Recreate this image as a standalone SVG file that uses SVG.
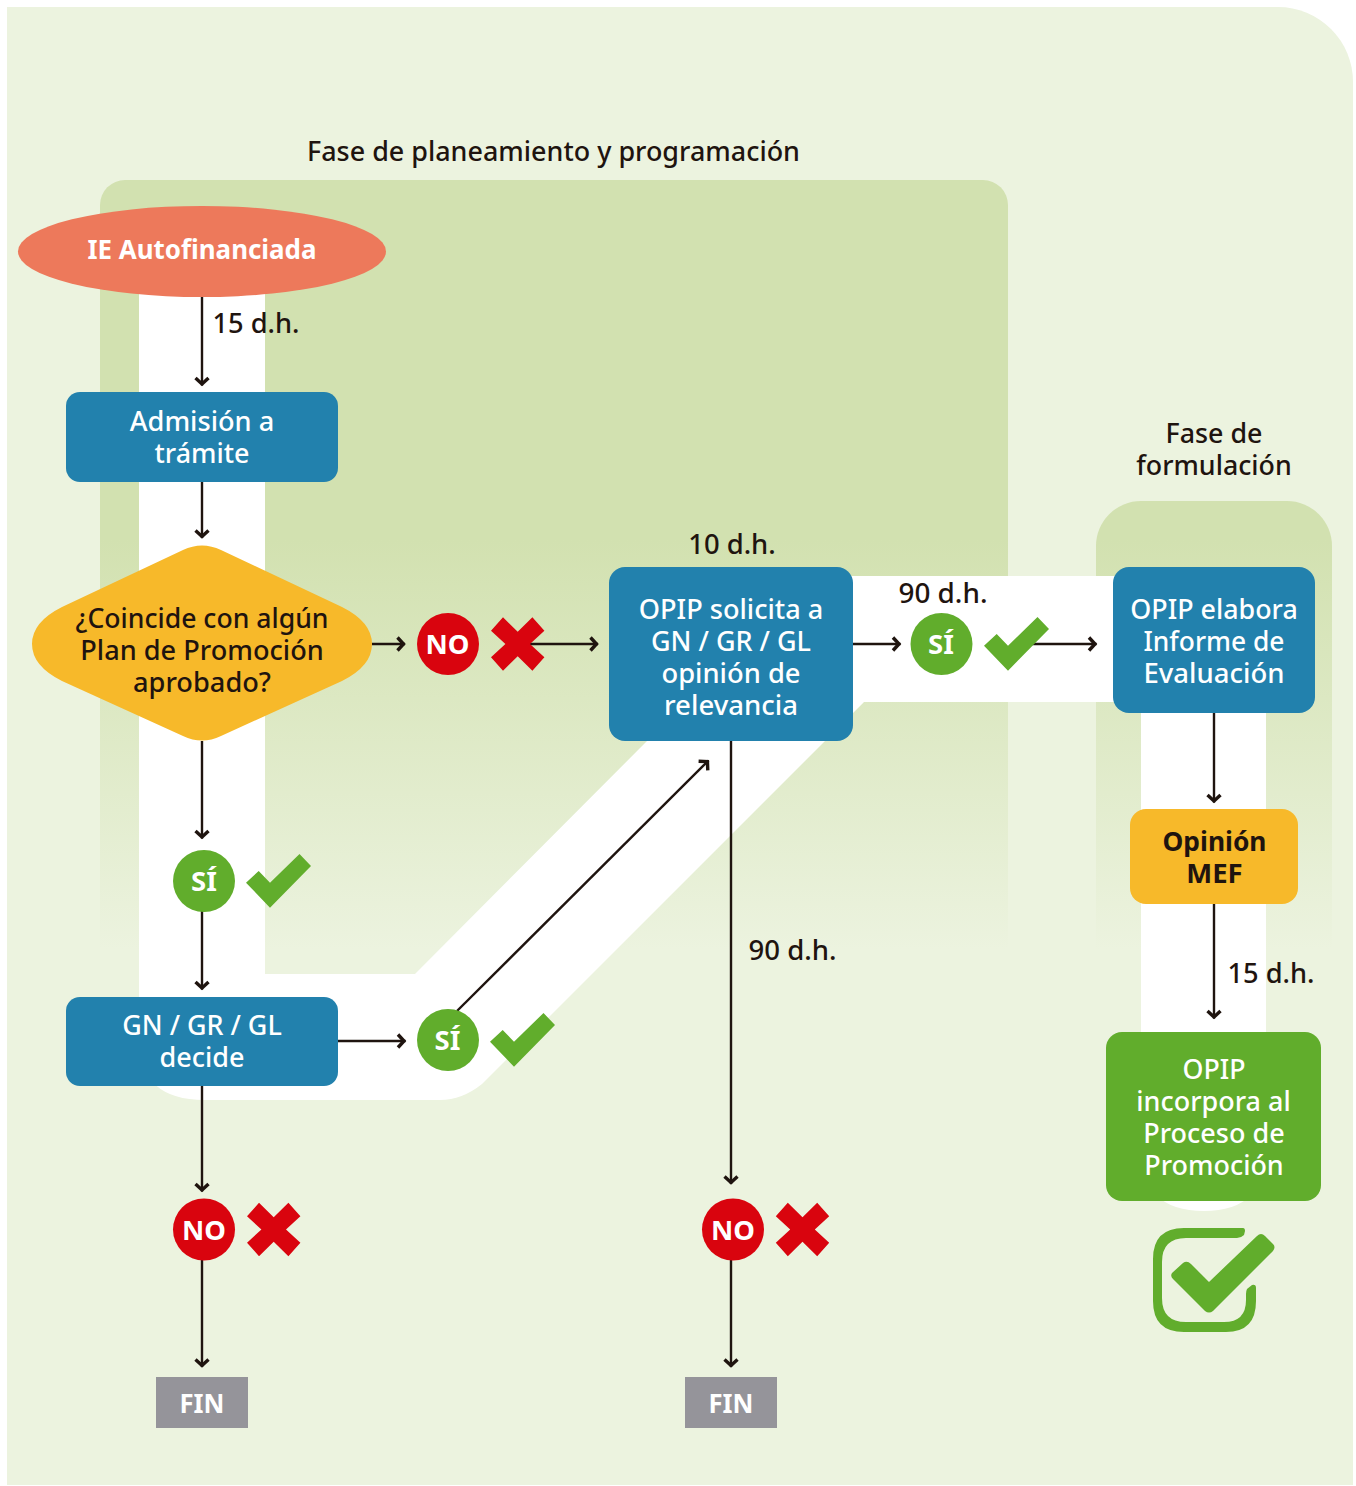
<svg xmlns="http://www.w3.org/2000/svg" width="1356" height="1486" viewBox="0 0 1356 1486">
<style>
text{font-family:"Noto Sans","Liberation Sans",sans-serif;font-size:27.5px;font-weight:500;text-anchor:middle}
.w{fill:#fff}.k{fill:#1f140f}.b{font-weight:700}
.blue{fill:#2281ad}.yel{fill:#f7b92a}.grn{fill:#61ad2c}.red{fill:#d9040e}.gry{fill:#95949a}
.c{fill:none;stroke:#1f140f;stroke-width:2.4}
</style>
<defs>
<linearGradient id="g1" gradientUnits="userSpaceOnUse" x1="0" y1="540" x2="0" y2="950"><stop offset="0" stop-color="#d2e1b0"/><stop offset="1" stop-color="#ecf3df"/></linearGradient>
<marker id="a" markerUnits="userSpaceOnUse" markerWidth="18" markerHeight="18" refX="13" refY="9" orient="auto"><path d="M5.500 2.500 L11.500 9 L5.500 15.500" fill="none" stroke="#1f140f" stroke-width="3.400"/></marker>
<path id="chk" d="M0 20.700 L12.700 9 L24 20.700 L53.500 -8 L65 4 L24 45.700 Z"/>
<path id="crs" d="M-26.700 -13.300 L-14.700 -26.700 L0 -12.300 L14.700 -26.700 L26.700 -13.300 L12.300 0 L26.700 13.300 L14.700 26.700 L0 12.300 L-14.700 26.700 L-26.700 13.300 L-12.300 0 Z"/>
</defs>
<path id="background" d="M7 7 H1278 A75 75 0 0 1 1353 82 V1485 H7 Z" fill="#ecf3df"/>
<g id="phases">
<path d="M100 1000 V205 A25 25 0 0 1 125 180 H983 A25 25 0 0 1 1008 205 V1000 Z" fill="url(#g1)"/>
<path d="M1096 1000 V546 A45 45 0 0 1 1141 501 H1287 A45 45 0 0 1 1332 546 V1000 Z" fill="url(#g1)"/>
<path fill="#fff" d="M139 290 H265 V974 H415 L650 738 H828 L482 1084 Q462 1100 440 1100 H205 Q139 1100 139 1040 Z"/>
<path fill="#fff" d="M850 576 H1116 V702 H864 L850 716 Z"/>
<path fill="#fff" d="M1141 700 H1266 V1150 Q1266 1211 1204 1211 Q1141 1211 1141 1150 Z"/>
<text class="k" x="553.500" y="161" textLength="493" lengthAdjust="spacingAndGlyphs">Fase de planeamiento y programación</text>
<text class="k" x="1214" y="443" textLength="97" lengthAdjust="spacingAndGlyphs">Fase de</text><text class="k" x="1214" y="475" textLength="155.500" lengthAdjust="spacingAndGlyphs">formulación</text>
</g>
<g id="connectors">
<path class="c" marker-end="url(#a)" d="M202 296 V385.500"/>
<path class="c" marker-end="url(#a)" d="M202 482 V538"/>
<path class="c" marker-end="url(#a)" d="M372 644 H405"/>
<path class="c" marker-end="url(#a)" d="M526 644 H598"/>
<path class="c" marker-end="url(#a)" d="M202 741 V838.500"/>
<path class="c" marker-end="url(#a)" d="M202 911 V989.500"/>
<path class="c" marker-end="url(#a)" d="M338 1041 H405.500"/>
<path class="c" marker-end="url(#a)" d="M457 1011 L708.500 760.500"/>
<path class="c" marker-end="url(#a)" d="M853 644 H900.500"/>
<path class="c" marker-end="url(#a)" d="M1032 644 H1096.500"/>
<path class="c" marker-end="url(#a)" d="M731 741 V1184"/>
<path class="c" marker-end="url(#a)" d="M202 1086 V1191.500"/>
<path class="c" marker-end="url(#a)" d="M202 1260 V1367"/>
<path class="c" marker-end="url(#a)" d="M731 1260 V1367"/>
<path class="c" marker-end="url(#a)" d="M1214 713 V802.500"/>
<path class="c" marker-end="url(#a)" d="M1214 904 V1018.500"/>
</g>
<g id="labels">
<text class="k" x="256" y="333" textLength="87" lengthAdjust="spacingAndGlyphs">15 d.h.</text>
<text class="k" x="732" y="554" textLength="87.500" lengthAdjust="spacingAndGlyphs">10 d.h.</text>
<text class="k" x="943" y="603" textLength="89" lengthAdjust="spacingAndGlyphs">90 d.h.</text>
<text class="k" x="792.500" y="960" textLength="88" lengthAdjust="spacingAndGlyphs">90 d.h.</text>
<text class="k" x="1271" y="983" textLength="87" lengthAdjust="spacingAndGlyphs">15 d.h.</text>
</g>
<g id="n-start"><ellipse cx="202" cy="251.500" rx="184" ry="45.500" fill="#ed795b"/><text class="w b" x="202" y="259" textLength="229" lengthAdjust="spacingAndGlyphs">IE Autofinanciada</text></g>
<g id="n-admision"><rect class="blue" x="66" y="392" width="272" height="90" rx="14"/><text class="w" x="202" y="431" textLength="144.500" lengthAdjust="spacingAndGlyphs">Admisión a</text><text class="w" x="202" y="463" textLength="95" lengthAdjust="spacingAndGlyphs">trámite</text></g>
<g id="n-coincide"><path class="yel" d="M183 550 Q202 541 221 550 L342 607 Q372 622 372 644 Q372 666 342 681 L221 736 Q202 745 183 736 L62 681 Q32 666 32 644 Q32 622 62 607 Z"/><text class="k" x="202" y="628" textLength="253" lengthAdjust="spacingAndGlyphs">¿Coincide con algún</text><text class="k" x="202" y="660" textLength="243.500" lengthAdjust="spacingAndGlyphs">Plan de Promoción</text><text class="k" x="202" y="692" textLength="138" lengthAdjust="spacingAndGlyphs">aprobado?</text></g>
<g id="n-no1"><circle class="red" cx="448" cy="644" r="31"/><text class="w b" x="447.500" y="654" textLength="44" lengthAdjust="spacingAndGlyphs">NO</text><use href="#crs" class="red" x="517.700" y="644"/></g>
<g id="n-opip1"><rect class="blue" x="609" y="567" width="244" height="174" rx="16"/><text class="w" x="731" y="619" textLength="184.500" lengthAdjust="spacingAndGlyphs">OPIP solicita a</text><text class="w" x="731" y="651" textLength="160" lengthAdjust="spacingAndGlyphs">GN / GR / GL</text><text class="w" x="731" y="683" textLength="139" lengthAdjust="spacingAndGlyphs">opinión de</text><text class="w" x="731" y="715" textLength="134" lengthAdjust="spacingAndGlyphs">relevancia</text></g>
<g id="n-si2"><circle class="grn" cx="941.500" cy="644" r="31"/><text class="w b" x="941" y="654">SÍ</text><use href="#chk" class="grn" x="984" y="625"/></g>
<g id="n-opip2"><rect class="blue" x="1113" y="567" width="202" height="146" rx="16"/><text class="w" x="1214" y="619" textLength="167.500" lengthAdjust="spacingAndGlyphs">OPIP elabora</text><text class="w" x="1214" y="651" textLength="141" lengthAdjust="spacingAndGlyphs">Informe de</text><text class="w" x="1214" y="683" textLength="141" lengthAdjust="spacingAndGlyphs">Evaluación</text></g>
<g id="n-mef"><rect class="yel" x="1130" y="809" width="168" height="95" rx="16"/><text class="k b" x="1214.500" y="851" textLength="104" lengthAdjust="spacingAndGlyphs">Opinión</text><text class="k b" x="1214.500" y="883">MEF</text></g>
<g id="n-incorpora"><rect class="grn" x="1106" y="1032" width="215" height="169" rx="16"/><text class="w" x="1214" y="1079" textLength="63" lengthAdjust="spacingAndGlyphs">OPIP</text><text class="w" x="1213.500" y="1111" textLength="154.500" lengthAdjust="spacingAndGlyphs">incorpora al</text><text class="w" x="1214" y="1143" textLength="141.500" lengthAdjust="spacingAndGlyphs">Proceso de</text><text class="w" x="1214" y="1175" textLength="139.500" lengthAdjust="spacingAndGlyphs">Promoción</text></g>
<g id="n-si1"><circle class="grn" cx="204" cy="881" r="31"/><text class="w b" x="204" y="891">SÍ</text><use href="#chk" class="grn" x="246" y="862"/></g>
<g id="n-decide"><rect class="blue" x="66" y="997" width="272" height="89" rx="14"/><text class="w" x="202" y="1035" textLength="159.500" lengthAdjust="spacingAndGlyphs">GN / GR / GL</text><text class="w" x="202" y="1067" textLength="85" lengthAdjust="spacingAndGlyphs">decide</text></g>
<g id="n-si3"><circle class="grn" cx="448" cy="1040" r="31"/><text class="w b" x="447.500" y="1050">SÍ</text><use href="#chk" class="grn" x="490" y="1021"/></g>
<g id="n-no2"><circle class="red" cx="204" cy="1229.500" r="31"/><text class="w b" x="204" y="1240" textLength="44" lengthAdjust="spacingAndGlyphs">NO</text><use href="#crs" class="red" x="273.700" y="1229.500"/></g>
<g id="n-no3"><circle class="red" cx="733" cy="1229.500" r="31"/><text class="w b" x="733" y="1240" textLength="44" lengthAdjust="spacingAndGlyphs">NO</text><use href="#crs" class="red" x="802.500" y="1229.500"/></g>
<g id="n-fin1"><rect class="gry" x="156" y="1377" width="92" height="51"/><text class="w b" x="202" y="1413" textLength="45" lengthAdjust="spacingAndGlyphs">FIN</text></g>
<g id="n-fin2"><rect class="gry" x="685" y="1377" width="92" height="51"/><text class="w b" x="731" y="1413" textLength="45" lengthAdjust="spacingAndGlyphs">FIN</text></g>
<g id="n-check">
<path class="grn" d="M1243 1228 H1184 Q1153 1228 1153 1259 V1301 Q1153 1332 1184 1332 H1226 Q1256 1332 1256 1301 V1288 Q1256 1284 1252 1285 L1247 1289 Q1246 1291 1246 1294 V1300 Q1246 1322 1224 1322 H1186 Q1162 1322 1162 1298 V1262 Q1162 1238 1186 1238 H1237 Q1241 1238 1244 1235 L1245 1231 Q1245 1228 1243 1228 Z"/>
<path class="grn" d="M1172 1273 Q1170 1276 1173 1279 L1205 1311 Q1209 1314 1213 1311 L1273 1251 Q1276 1247 1273 1244 L1265 1236 Q1261 1232 1257 1236 L1209 1282 L1191 1264 Q1187 1260 1183 1263 Z"/>
</g>
</svg>
